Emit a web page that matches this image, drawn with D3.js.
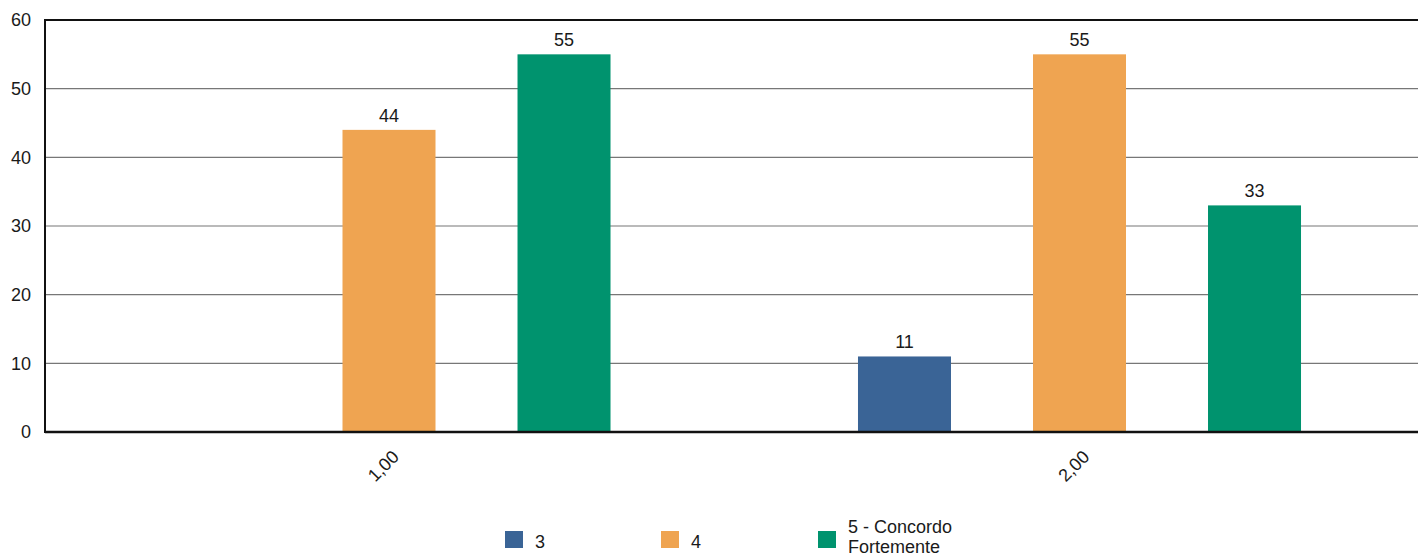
<!DOCTYPE html>
<html>
<head>
<meta charset="utf-8">
<script src="https://cdn.jsdelivr.net/npm/d3@7"></script>
<style>
  html, body { margin: 0; padding: 0; background: #fff; }
  svg { display: block; font-family: "Liberation Sans", Arial, sans-serif; }
</style>
</head>
<body>
<svg id="chart" width="1418" height="557"></svg>
<script>
const categories = ["1,00", "2,00"];
const seriesNames = ["3", "4", "5 - Concordo Fortemente"];
const legendLines = [["3"], ["4"], ["5 - Concordo", "Fortemente"]];
const series3 = [null, 11];
const series4 = [44, 55];
const series5 = [55, 33];
const seriesValues = [series3, series4, series5];
const colors = ["#3a6496", "#efa451", "#00936e"];
const yTicks = [0, 10, 20, 30, 40, 50, 60];

const svg = d3.select("#chart");
const W = 1418, H = 557;
const plotLeft = 45, plotTop = 20, plotBottom = 432;

const x0 = d3.scaleBand().domain(categories).range([43.75, 1424.75]).padding(0);
const x1 = d3.scaleBand().domain(d3.range(seriesNames.length))
  .range([0, x0.bandwidth()]).paddingInner(0.4686).paddingOuter(0.707);
const y = d3.scaleLinear().domain([0, 60]).range([plotBottom, plotTop]);

// gridlines
svg.append("g").selectAll("line").data(yTicks.filter(t => t > 0)).join("line")
  .attr("x1", plotLeft).attr("x2", W)
  .attr("y1", d => y(d)).attr("y2", d => y(d))
  .attr("stroke", d => d === 60 ? "#111" : "#777")
  .attr("stroke-width", d => d === 60 ? 2 : 1.2);

// y tick labels
svg.append("g").selectAll("text").data(yTicks).join("text")
  .attr("x", 31).attr("y", d => y(d)).attr("dy", "0.36em")
  .attr("text-anchor", "end").attr("font-size", 18).attr("fill", "#1a1a1a")
  .text(d => d);

// bars
const groups = svg.append("g").selectAll("g").data(categories).join("g")
  .attr("transform", d => `translate(${x0(d)},0)`);
groups.each(function(cat, ci) {
  const g = d3.select(this);
  seriesValues.forEach((vals, si) => {
    const v = vals[ci];
    if (v == null) return;
    g.append("rect")
      .attr("x", x1(si)).attr("width", x1.bandwidth())
      .attr("y", y(v)).attr("height", y(0) - y(v))
      .attr("fill", colors[si]);
    g.append("text")
      .attr("x", x1(si) + x1.bandwidth() / 2).attr("y", y(v) - 8)
      .attr("text-anchor", "middle").attr("font-size", 18).attr("fill", "#1a1a1a")
      .text(v);
  });
});

// axes lines
svg.append("line").attr("x1", plotLeft).attr("x2", plotLeft)
  .attr("y1", plotTop - 1).attr("y2", plotBottom + 1)
  .attr("stroke", "#111").attr("stroke-width", 2);
svg.append("line").attr("x1", plotLeft).attr("x2", W)
  .attr("y1", plotBottom).attr("y2", plotBottom)
  .attr("stroke", "#111").attr("stroke-width", 2.5);

// x labels
svg.append("g").selectAll("text").data(categories).join("text")
  .attr("transform", d => `translate(${x0(d) + x0.bandwidth() / 2 + 11},${plotBottom + 26}) rotate(-45)`)
  .attr("text-anchor", "end").attr("font-size", 18).attr("fill", "#1a1a1a")
  .text(d => d);

// legend
const legendX = [505, 661, 818];
const lg = svg.append("g").selectAll("g").data(seriesNames).join("g")
  .attr("transform", (d, i) => `translate(${legendX[i]},531)`);
lg.append("rect").attr("width", 18).attr("height", 17).attr("fill", (d, i) => colors[i]);
lg.each(function(d, i) {
  const lines = legendLines[i];
  const t = d3.select(this).append("text").attr("font-size", 18).attr("fill", "#1a1a1a");
  const startY = lines.length === 1 ? 17 : 2;
  lines.forEach((ln, k) => {
    t.append("tspan").attr("x", 30).attr("y", startY + k * 20).text(ln);
  });
});
</script>
</body>
</html>
